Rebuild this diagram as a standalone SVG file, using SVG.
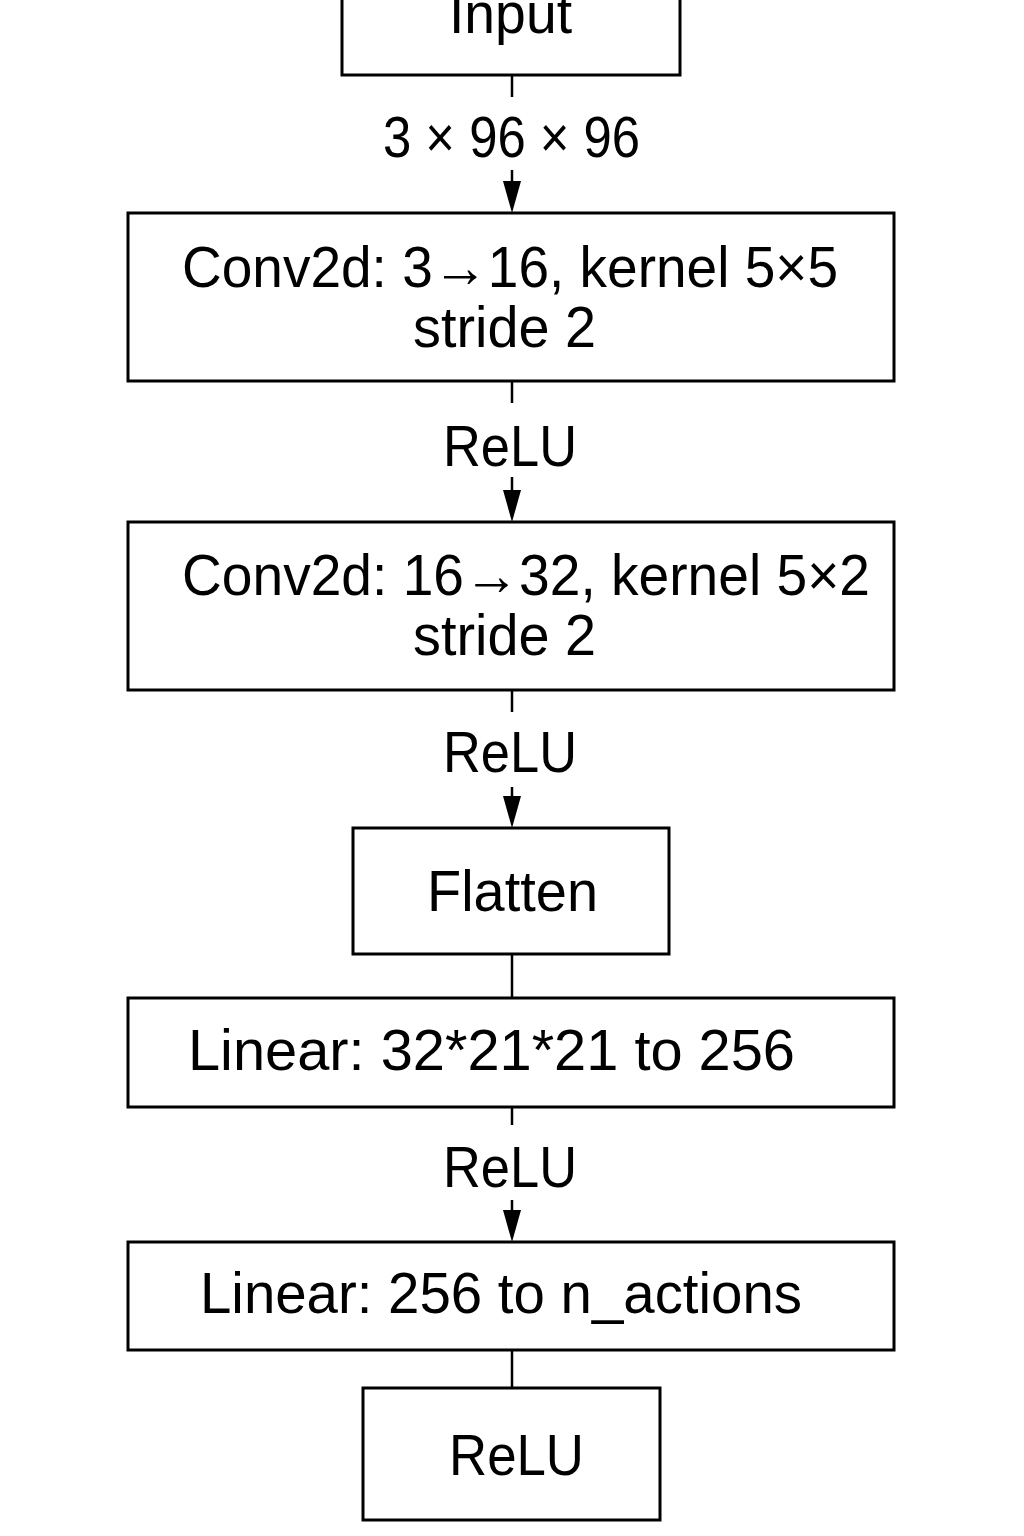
<svg xmlns="http://www.w3.org/2000/svg" width="1024" height="1536" viewBox="0 0 1024 1536">
<style>
.box{fill:#fff;stroke:#000;stroke-width:3}
.t{font-family:"Liberation Sans",Arial,sans-serif;font-size:58px;fill:#000}
.c{stroke:#000;stroke-width:2.5;fill:none}
.ah{fill:#000}
</style>
<rect width="1024" height="1536" fill="#fff"/>
<g id="connectors">
<line class="c" x1="512" y1="75" x2="512" y2="97"/>
<text class="t" x="383" y="157" textLength="257" lengthAdjust="spacingAndGlyphs">3 × 96 × 96</text>
<line class="c" x1="512" y1="170" x2="512" y2="182"/>
<polygon class="ah" points="503,181 521,181 512,213"/>
<line class="c" x1="512" y1="381" x2="512" y2="403"/>
<text class="t" x="443" y="466" textLength="134" lengthAdjust="spacingAndGlyphs">ReLU</text>
<line class="c" x1="512" y1="477" x2="512" y2="491"/>
<polygon class="ah" points="503,490 521,490 512,522"/>
<line class="c" x1="512" y1="690" x2="512" y2="712"/>
<text class="t" x="443" y="772" textLength="134" lengthAdjust="spacingAndGlyphs">ReLU</text>
<line class="c" x1="512" y1="787" x2="512" y2="797"/>
<polygon class="ah" points="503,796 521,796 512,828"/>
<line class="c" x1="512" y1="954" x2="512" y2="998"/>
<line class="c" x1="512" y1="1107" x2="512" y2="1125"/>
<text class="t" x="443" y="1187" textLength="134" lengthAdjust="spacingAndGlyphs">ReLU</text>
<line class="c" x1="512" y1="1200" x2="512" y2="1211"/>
<polygon class="ah" points="503,1210 521,1210 512,1242"/>
<line class="c" x1="512" y1="1350" x2="512" y2="1388"/>
</g>
<g id="input">
<rect class="box" x="342" y="-10" width="338" height="85"/>
<text class="t" x="449" y="33" textLength="123" lengthAdjust="spacingAndGlyphs">Input</text>
</g>
<g id="conv1">
<rect class="box" x="128" y="213" width="766" height="168"/>
<text class="t" x="182" y="287" textLength="656" lengthAdjust="spacingAndGlyphs">Conv2d: 3→16, kernel 5×5</text>
<text class="t" x="413" y="347" textLength="183" lengthAdjust="spacingAndGlyphs">stride 2</text>
</g>
<g id="conv2">
<rect class="box" x="128" y="522" width="766" height="168"/>
<text class="t" x="182" y="595" textLength="688" lengthAdjust="spacingAndGlyphs">Conv2d: 16→32, kernel 5×2</text>
<text class="t" x="413" y="655" textLength="183" lengthAdjust="spacingAndGlyphs">stride 2</text>
</g>
<g id="flatten">
<rect class="box" x="353" y="828" width="316" height="126"/>
<text class="t" x="427" y="911" textLength="171" lengthAdjust="spacingAndGlyphs">Flatten</text>
</g>
<g id="linear1">
<rect class="box" x="128" y="998" width="766" height="109"/>
<text class="t" x="188" y="1070" textLength="607" lengthAdjust="spacingAndGlyphs">Linear: 32*21*21 to 256</text>
</g>
<g id="linear2">
<rect class="box" x="128" y="1242" width="766" height="108"/>
<text class="t" x="200" y="1313" textLength="602" lengthAdjust="spacingAndGlyphs">Linear: 256 to n_actions</text>
</g>
<g id="relu-out">
<rect class="box" x="363" y="1388" width="297" height="132"/>
<text class="t" x="449" y="1475" textLength="135" lengthAdjust="spacingAndGlyphs">ReLU</text>
</g>
</svg>
